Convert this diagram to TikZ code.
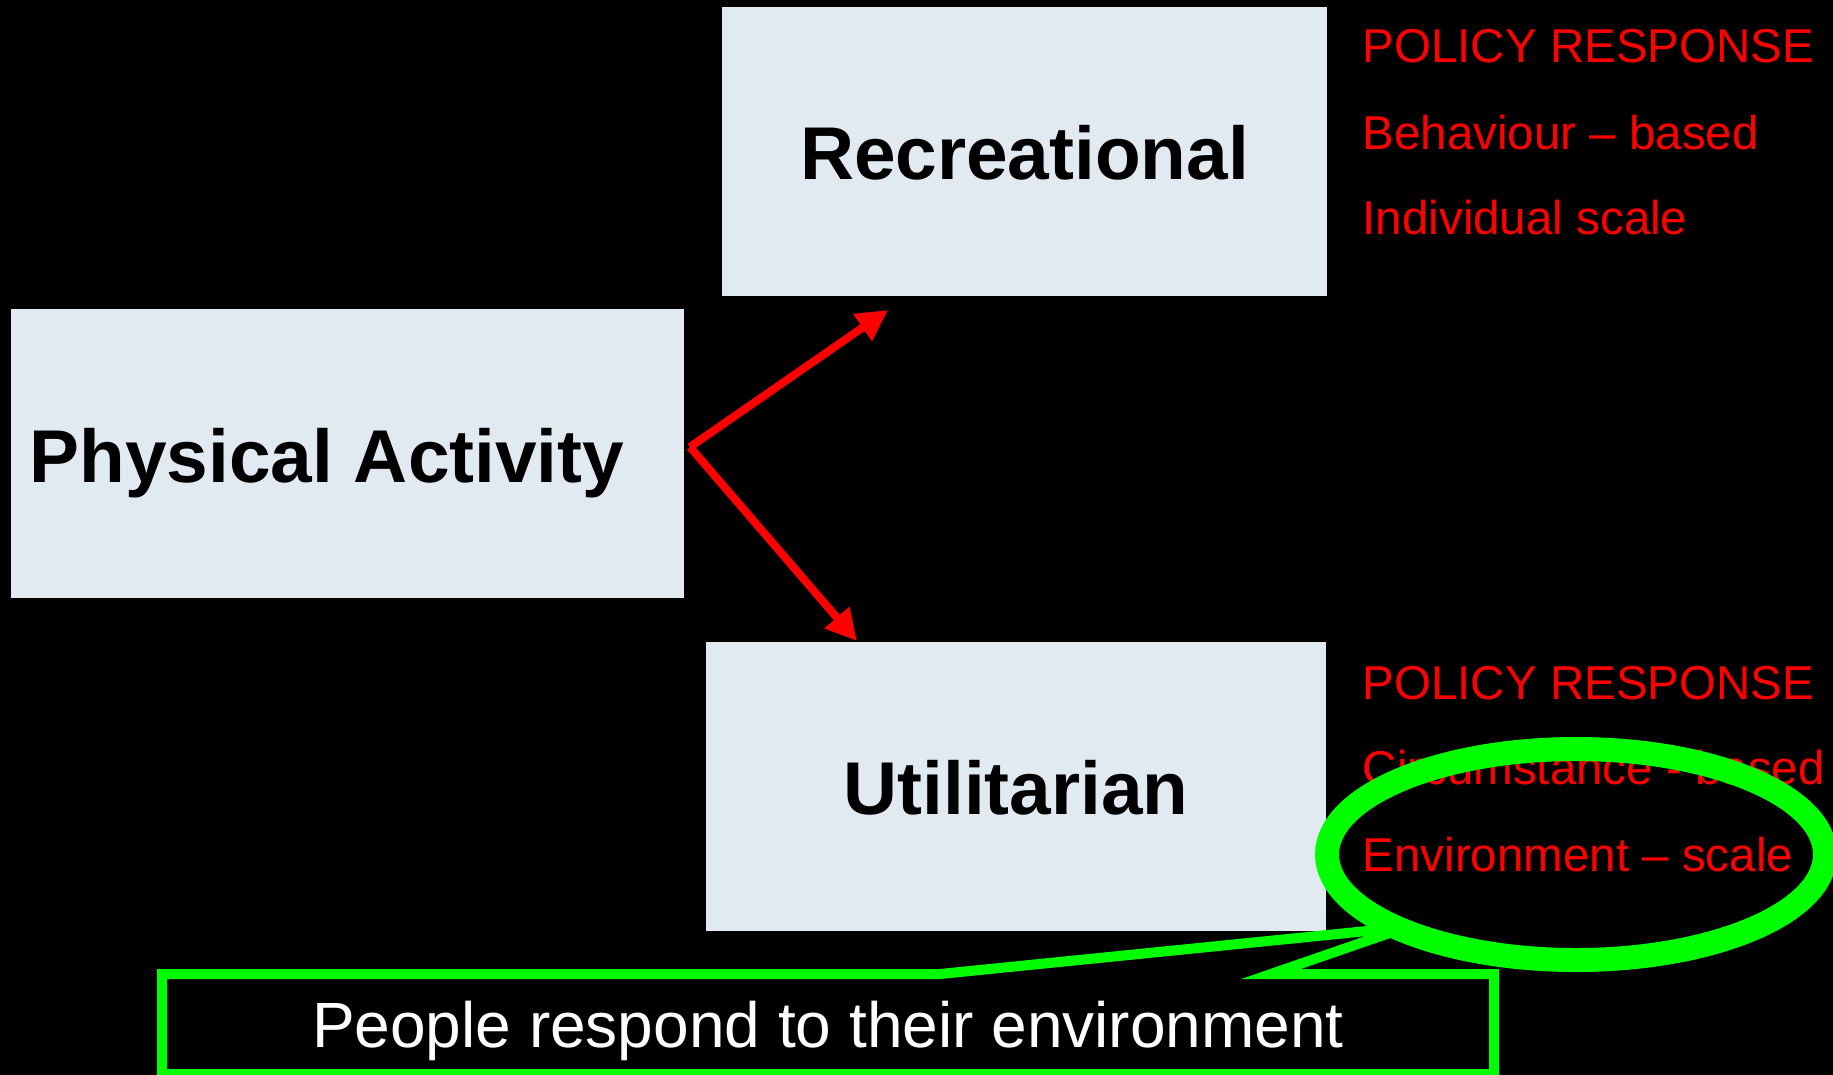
\documentclass[tikz,border=0pt]{standalone}
\usepackage{fontspec}
\setmainfont{Liberation Sans}
\usetikzlibrary{arrows.meta,shapes.geometric}
\definecolor{boxfill}{RGB}{226,234,241}
\definecolor{hotred}{RGB}{255,0,0}
\definecolor{lime}{RGB}{0,255,0}

\begin{document}
\begin{tikzpicture}[x=1pt,y=-1pt,
  box/.style={fill=boxfill, draw=none, inner sep=0pt, minimum height=289pt},
  boxlabel/.style={anchor=base, inner sep=0pt, text=black,
    font=\fontsize{74.8}{88}\selectfont\bfseries},
  policy/.style={anchor=base west, inner sep=0pt, text=hotred,
    font=\fontsize{47.5}{56}\selectfont},
  flow/.style={draw=hotred, line width=8pt,
    -{Triangle[length=31pt,width=31pt]}},
  callout/.style={draw=lime, line width=10pt, miter limit=7},
  ring/.style={ellipse, draw=lime, line width=24pt, inner sep=0pt},
  note/.style={anchor=base, inner sep=0pt, text=white,
    font=\fontsize{64}{76}\selectfont}]

% canvas
\fill[black] (0,0) rectangle (1833,1075);
\useasboundingbox (0,0) rectangle (1833,1075);

% the three activity boxes
\node[box, minimum width=673pt] (pa)   at (347.5,453.5) {};
\node[box, minimum width=605pt] (rec)  at (1024.5,151.5) {};
\node[box, minimum width=620pt] (util) at (1016,786.5) {};

\node[boxlabel] (palbl)   at ([xshift=-20.5pt,yshift=-28.5pt]pa.center) {Physical Activity};
\node[boxlabel] (reclbl)  at ([yshift=-27.8pt]rec.center) {Recreational};
\node[boxlabel] (utillbl) at ([yshift=-28pt]util.center) {Utilitarian};

% branching arrows
\coordinate (fork)    at (690,447);
\coordinate (rectip)  at (888,310);
\coordinate (utiltip) at (857,641);
\draw[flow] (fork) -- (rectip);
\draw[flow] (fork) -- (utiltip);

% policy responses
\node[policy] (p1a) at (1362.5,63)  {POLICY RESPONSE};
\node[policy] (p1b) at (1362.5,150) {Behaviour – based};
\node[policy] (p1c) at (1362.5,235) {Individual scale};
\node[policy] (p2a) at (1362.5,699) {POLICY RESPONSE};
\node[policy] (p2b) at (1362.5,784) {Circumstance - based};
\node[policy] (p2c) at (1362.5,871) {Environment – scale};

% callout box with its pointer
\coordinate (cnw)  at (162,974);
\coordinate (cb1)  at (940,974);
\coordinate (ctip) at (1407,927);
\coordinate (cb2)  at (1271,974);
\coordinate (cne)  at (1494,974);
\coordinate (cse)  at (1494,1074);
\coordinate (csw)  at (162,1074);
\draw[callout] (cnw) -- (cb1) -- (ctip) -- (cb2) -- (cne) -- (cse) -- (csw) -- cycle;
\node[note] (msg) at (828,1047) {People respond to their environment};

% highlight ring
\node[ring, minimum width=498pt, minimum height=211pt] (hl) at (1576,854.5) {};
\end{tikzpicture}
\end{document}
